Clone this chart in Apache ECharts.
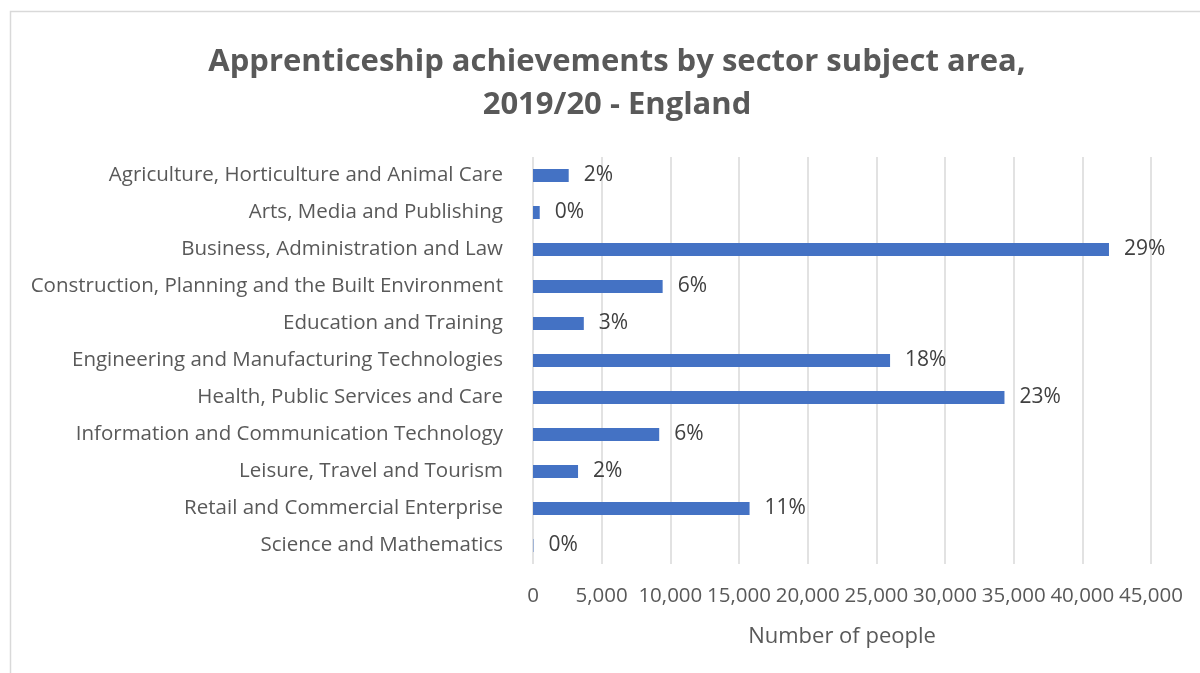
<!DOCTYPE html>
<html>
<head>
<meta charset="utf-8">
<script src="https://cdn.jsdelivr.net/npm/echarts@6/dist/echarts.min.js"></script>
<style>
  html, body { margin: 0; padding: 0; background: #ffffff; }
  #chart { width: 1200px; height: 673px; }
</style>
</head>
<body>
<div id="chart"></div>
<script>
// Sector subject areas, listed top to bottom
const sectors = [
  'Agriculture, Horticulture and Animal Care',
  'Arts, Media and Publishing',
  'Business, Administration and Law',
  'Construction, Planning and the Built Environment',
  'Education and Training',
  'Engineering and Manufacturing Technologies',
  'Health, Public Services and Care',
  'Information and Communication Technology',
  'Leisure, Travel and Tourism',
  'Retail and Commercial Enterprise',
  'Science and Mathematics'
];

// Apprenticeship achievements (number of people), 2019/20
const achievements = [2600, 490, 41940, 9440, 3700, 26000, 34330, 9190, 3280, 15770, 30];

// Value axis ticks
const axisMin = 0;
const axisMax = 45000;
const axisStep = 5000;

const total = achievements.reduce((a, b) => a + b, 0);
const shareLabel = v => Math.round(v / total * 100) + '%';

const FONT = '"Open Sans", Lato, sans-serif';

const chart = echarts.init(document.getElementById('chart'));
chart.setOption({
  backgroundColor: '#ffffff',
  animation: false,
  title: {
    text: 'Apprenticeship achievements by sector subject area,\n2019/20 - England',
    left: 612,
    textAlign: 'center',
    top: 36,
    textStyle: {
      fontFamily: FONT,
      fontSize: 31,
      fontWeight: 'bold',
      color: '#595959',
      lineHeight: 43
    }
  },
  graphic: [{
    type: 'rect',
    shape: { x: 10.5, y: 11.5, width: 1300, height: 800 },
    style: { fill: 'none', stroke: '#d9d9d9', lineWidth: 1.5 },
    silent: true,
    z: -1
  }],
  grid: {
    left: 533,
    right: 49,
    top: 157,
    bottom: 109,
    containLabel: false
  },
  xAxis: {
    type: 'value',
    min: axisMin,
    max: axisMax,
    interval: axisStep,
    name: 'Number of people',
    nameLocation: 'middle',
    nameGap: 62,
    nameTextStyle: { fontFamily: FONT, fontSize: 22, color: '#595959' },
    axisLine: { show: false },
    axisTick: { show: false },
    axisLabel: {
      fontFamily: FONT,
      fontSize: 20.5,
      color: '#595959',
      margin: 22,
      formatter: v => v.toLocaleString('en-GB')
    },
    splitLine: { show: true, lineStyle: { color: '#d9d9d9', width: 1.5 } }
  },
  yAxis: {
    type: 'category',
    data: sectors,
    inverse: true,
    axisLine: { show: false },
    axisTick: { show: false },
    axisLabel: {
      fontFamily: FONT,
      fontSize: 20.5,
      color: '#595959',
      margin: 30
    }
  },
  series: [{
    type: 'bar',
    data: achievements,
    barWidth: 13,
    itemStyle: { color: '#4472c4' },
    label: {
      show: true,
      position: 'right',
      distance: 15,
      fontFamily: FONT,
      fontSize: 21,
      color: '#404040',
      formatter: p => shareLabel(p.value)
    }
  }]
});
</script>
</body>
</html>
